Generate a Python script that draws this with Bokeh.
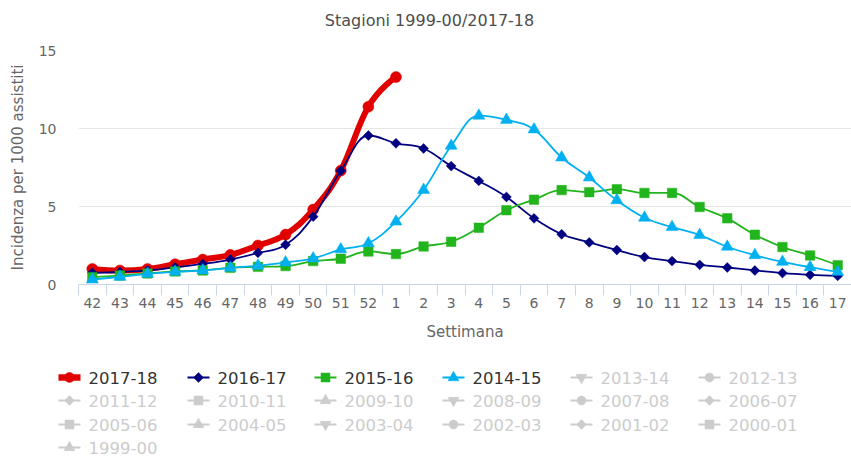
import math
from bokeh.plotting import figure
from bokeh.layouts import column
from bokeh.models import Range1d, FixedTicker
from bokeh.core.properties import value
from bokeh.embed import file_html
from bokeh.resources import INLINE

# ---------------- data ----------------
weeks = ["42", "43", "44", "45", "46", "47", "48", "49", "50", "51", "52",
         "1", "2", "3", "4", "5", "6", "7", "8", "9", "10", "11", "12",
         "13", "14", "15", "16", "17"]

s2017_18 = [1.0, 0.9, 1.0, 1.3, 1.6, 1.9, 2.5, 3.2, 4.8, 7.3, 11.4, 13.3]
s2016_17 = [0.75, 0.8, 0.9, 1.1, 1.32, 1.6, 2.03, 2.55, 4.35, 7.29, 9.55, 9.05,
            8.72, 7.59, 6.64, 5.61, 4.24, 3.22, 2.7, 2.21, 1.76, 1.5, 1.26,
            1.09, 0.9, 0.73, 0.62, 0.55]
s2015_16 = [0.47, 0.58, 0.71, 0.84, 0.9, 1.07, 1.13, 1.18, 1.5, 1.65, 2.12, 1.95,
            2.44, 2.74, 3.64, 4.76, 5.44, 6.05, 5.92, 6.11, 5.87, 5.87, 4.97,
            4.24, 3.19, 2.4, 1.86, 1.24]
s2014_15 = [0.32, 0.49, 0.68, 0.81, 0.9, 1.07, 1.2, 1.41, 1.67, 2.25, 2.64, 4.03,
            6.06, 8.89, 10.82, 10.55, 9.94, 8.14, 6.86, 5.4, 4.28, 3.68, 3.17,
            2.42, 1.88, 1.45, 1.11, 0.81]

seasons = ["2017-18", "2016-17", "2015-16", "2014-15", "2013-14", "2012-13",
           "2011-12", "2010-11", "2009-10", "2008-09", "2007-08", "2006-07",
           "2005-06", "2004-05", "2003-04", "2002-03", "2001-02", "2000-01",
           "1999-00"]

title_text = "Stagioni 1999-00/2017-18"
y_ticks = [0, 5, 10, 15]

# ---------------- styles ----------------
FONT = "DejaVu Sans"
RED, NAVY, GREEN, BLUE = "#e00000", "#000080", "#22b41c", "#00b0f0"
GREY = "#cccccc"
marker_cycle = ["circle", "diamond", "square", "triangle", "inverted_triangle"]
active_colors = {0: RED, 1: NAVY, 2: GREEN, 3: BLUE}


def spline_segments(xs, ys, smoothing=1.5):
    n = len(xs)
    lc = [None] * n
    rc = [None] * n
    for i in range(1, n - 1):
        px, py = xs[i], ys[i]
        lx, ly = xs[i - 1], ys[i - 1]
        nx, ny = xs[i + 1], ys[i + 1]
        lcx = (smoothing * px + lx) / (smoothing + 1)
        lcy = (smoothing * py + ly) / (smoothing + 1)
        rcx = (smoothing * px + nx) / (smoothing + 1)
        rcy = (smoothing * py + ny) / (smoothing + 1)
        corr = ((rcy - lcy) * (rcx - px)) / (rcx - lcx) + py - rcy
        lcy += corr
        rcy += corr
        if lcy > ly and lcy > py:
            lcy = max(ly, py); rcy = 2 * py - lcy
        elif lcy < ly and lcy < py:
            lcy = min(ly, py); rcy = 2 * py - lcy
        if rcy > ny and rcy > py:
            rcy = max(ny, py); lcy = 2 * py - rcy
        elif rcy < ny and rcy < py:
            rcy = min(ny, py); lcy = 2 * py - rcy
        lc[i] = (lcx, lcy)
        rc[i] = (rcx, rcy)
    seg = dict(x0=[], y0=[], x1=[], y1=[], cx0=[], cy0=[], cx1=[], cy1=[])
    for i in range(1, n):
        c0 = rc[i - 1] if rc[i - 1] else (xs[i - 1], ys[i - 1])
        c1 = lc[i] if lc[i] else (xs[i], ys[i])
        seg["x0"].append(xs[i - 1]); seg["y0"].append(ys[i - 1])
        seg["x1"].append(xs[i]); seg["y1"].append(ys[i])
        seg["cx0"].append(c0[0]); seg["cy0"].append(c0[1])
        seg["cx1"].append(c1[0]); seg["cy1"].append(c1[1])
    return seg


W = 851
TITLE_H = 32
MAIN_H = 318

# ---------------- title strip ----------------
tf = figure(width=W, height=TITLE_H, x_range=Range1d(0, W), y_range=Range1d(TITLE_H, 0),
            output_backend="svg", toolbar_location=None, min_border=0,
            x_axis_type=None, y_axis_type=None, outline_line_color=None)
tf.frame_align = False
tf.xgrid.visible = False
tf.ygrid.visible = False
tf.text(x=[429], y=[20], text=[title_text], text_color="#4d4d4d",
        text_font=value(FONT), text_font_size="16px",
        text_baseline="middle", text_align="center")

# ---------------- main chart ----------------
p = figure(width=W, height=MAIN_H, x_range=Range1d(-0.5, len(weeks) - 0.5),
           y_range=Range1d(0, 15), output_backend="svg", toolbar_location=None,
           min_border_left=78, min_border_right=0, min_border_top=50 - TITLE_H,
           min_border_bottom=MAIN_H - (284 - TITLE_H), outline_line_color=None)
p.frame_align = False

p.xgrid.visible = False
p.ygrid.ticker = FixedTicker(ticks=y_ticks)
p.ygrid.grid_line_color = "#e6e6e6"

xa = p.xaxis[0]
xa.ticker = FixedTicker(ticks=list(range(len(weeks))),
                        minor_ticks=[i - 0.5 for i in range(len(weeks) + 1)])
xa.major_label_overrides = {i: w for i, w in enumerate(weeks)}
xa.major_tick_out = 0
xa.major_tick_in = 0
xa.minor_tick_out = 11
xa.minor_tick_in = 0
xa.minor_tick_line_color = "#ccd6eb"
xa.axis_line_color = "#ccd6eb"
xa.major_label_text_font = FONT
xa.major_label_text_font_size = "14px"
xa.major_label_text_color = "#666666"
xa.major_label_standoff = 2
xa.axis_label = "Settimana"
xa.axis_label_text_font = FONT
xa.axis_label_text_font_size = "15px"
xa.axis_label_text_font_style = "normal"
xa.axis_label_text_color = "#666666"
xa.axis_label_standoff = 12

ya = p.yaxis[0]
ya.ticker = FixedTicker(ticks=y_ticks)
ya.axis_line_color = None
ya.major_tick_line_color = None
ya.minor_tick_line_color = None
ya.major_label_text_font = FONT
ya.major_label_text_font_size = "14px"
ya.major_label_text_color = "#666666"
ya.major_label_standoff = 16
ya.axis_label = "Incidenza per 1000 assistiti"
ya.axis_label_text_font = FONT
ya.axis_label_text_font_size = "15px"
ya.axis_label_text_font_style = "normal"
ya.axis_label_text_color = "#666666"
ya.axis_label_standoff = 9

series = [
    (s2017_18, RED, 6, "circle", 11, 0),
    (s2016_17, NAVY, 1.8, "square", 7, math.pi / 4),
    (s2015_16, GREEN, 1.8, "square", 9.5, 0),
    (s2014_15, BLUE, 1.8, "triangle", 12, 0),
]
for vals, col, lw, mk, sz, ang in series:
    xs = list(range(len(vals)))
    seg = spline_segments(xs, vals)
    p.bezier(line_color=col, line_width=lw, line_cap="round", **seg)
    p.scatter(xs, vals, marker=mk, size=sz, angle=ang, fill_color=col,
              line_color=col, line_width=0.5)

# ---------------- legend ----------------
LH = 456 - TITLE_H - MAIN_H
lg = figure(width=W, height=LH, x_range=Range1d(0, W), y_range=Range1d(LH, 0),
            output_backend="svg", toolbar_location=None, min_border=0,
            x_axis_type=None, y_axis_type=None, outline_line_color=None)
lg.frame_align = False
lg.xgrid.visible = False
lg.ygrid.visible = False

col_x = [58, 187, 314, 442, 570, 698]
row_y = [27, 50, 74, 97]
lx0, lx1, mx, tx, ty, tc = [], [], [], [], [], []
lcol, lwid = [], []
mk_list, mk_size, mk_ang, mk_col = [], [], [], []
for k, name in enumerate(seasons):
    r, c = divmod(k, 6)
    x0 = col_x[c]
    y = row_y[r]
    colr = active_colors.get(k, GREY)
    lx0.append([x0, x0 + 22]); lx1.append([y, y])
    lcol.append(colr)
    lwid.append(6.5 if k == 0 else 1.8)
    mname = marker_cycle[k % 5]
    if mname == "diamond":
        mk_list.append("square"); mk_size.append(7); mk_ang.append(math.pi / 4)
    elif mname == "circle":
        mk_list.append("circle"); mk_size.append(10 if k == 0 else 9); mk_ang.append(0)
    elif mname == "square":
        mk_list.append("square"); mk_size.append(9); mk_ang.append(0)
    else:
        mk_list.append(mname); mk_size.append(11); mk_ang.append(0)
    mx.append((x0 + 11, y)); mk_col.append(colr)
    tx.append(x0 + 30); ty.append(y)
    tc.append("#333333" if k < 4 else GREY)

lg.multi_line(xs=lx0, ys=lx1, line_color=lcol, line_width=lwid)
lg.scatter(x=[m[0] for m in mx], y=[m[1] for m in mx], marker=mk_list, size=mk_size,
           angle=mk_ang, fill_color=mk_col, line_color=mk_col, line_width=0.5)
lg.text(x=tx, y=ty, text=seasons, text_color=tc, text_font=value(FONT),
        text_font_size="16.5px", text_baseline="middle", text_align="left")

layout = column(tf, p, lg, spacing=0)
open("out.html", "w").write(file_html(layout, INLINE))
